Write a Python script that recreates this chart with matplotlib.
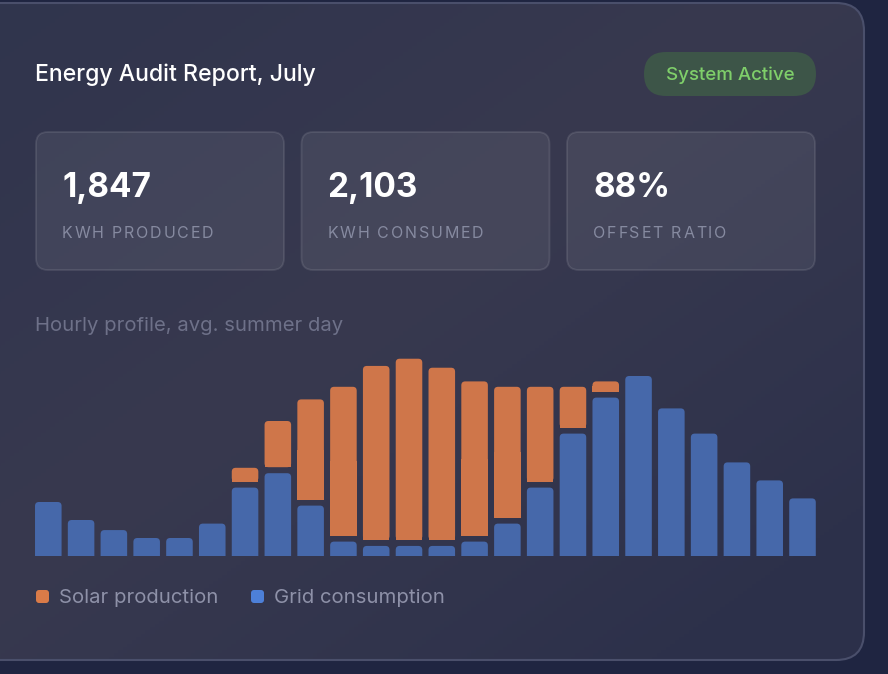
import numpy as np
import matplotlib
matplotlib.use("Agg")
import matplotlib.pyplot as plt
from matplotlib.patches import FancyBboxPatch, Rectangle

plt.rcParams['font.family'] = ['Inter', 'DejaVu Sans']

# hourly profile, avg. summer day (kW)
hours = np.arange(24)
grid = [1.5, 1.0, 0.72, 0.5, 0.5, 0.9, 1.9, 2.3, 1.4, 0.4, 0.28, 0.28,
        0.28, 0.4, 0.9, 1.9, 3.4, 4.4, 5.0, 4.1, 3.4, 2.6, 2.1, 1.6]
solar = [0, 0, 0, 0, 0, 0, 0.55, 1.45, 2.95, 4.3, 5.0, 5.2,
         4.95, 4.45, 3.8, 2.8, 1.3, 0.45, 0, 0, 0, 0, 0, 0]

kpi_values = ["1,847", "2,103", "88%"]
kpi_labels = ["KWH PRODUCED", "KWH CONSUMED", "OFFSET RATIO"]
series_names = ["Solar production", "Grid consumption"]

BLUE = "#4668aa"
ORANGE = "#cf764a"
W, H = 888, 674

fig = plt.figure(figsize=(W / 100, H / 100), dpi=100)
fig.patch.set_facecolor("#1f2541")
renderer = fig.canvas.get_renderer()

# background axes in pixel coordinates
bg = fig.add_axes([0, 0, 1, 1])
bg.set_xlim(0, W)
bg.set_ylim(H, 0)
bg.axis("off")

# card with soft gradient
card = FancyBboxPatch((-40, 3), 904, 657, boxstyle="round,pad=0,rounding_size=28",
                      facecolor="none", edgecolor="#4a4f6b", lw=1.5, zorder=3)
bg.add_patch(card)
yy, xx = np.mgrid[0:1:200j, 0:1:200j]
t = 0.5 * xx + 0.5 * yy
c0 = np.array([0x30, 0x35, 0x4e]) / 255
c1 = np.array([0x38, 0x39, 0x4f]) / 255
c2 = np.array([0x2c, 0x30, 0x4a]) / 255
w = np.clip(1 - np.abs(t - 0.45) * 2.2, 0, 1)[..., None]
img = c0 * (1 - t[..., None]) + c2 * t[..., None]
img = img * (1 - w) + c1 * w
im = bg.imshow(img, extent=(-40, 864, 660, 3), zorder=1, aspect="auto")
im.set_clip_path(card)


def spaced_text(x, y, s, spacing, **kw):
    # draw text char by char to mimic css letter-spacing
    for ch in s:
        t = bg.text(x, y, ch, ha="left", **kw)
        wpx = t.get_window_extent(renderer).width
        x += wpx + spacing


bg.text(35, 75, "Energy Audit Report, July", color="white", fontsize=16.6,
        fontweight="medium", va="center", ha="left", zorder=5)

badge = FancyBboxPatch((644, 52), 172, 44, boxstyle="round,pad=0,rounding_size=22",
                       facecolor="#3d5548", edgecolor="none", zorder=4)
bg.add_patch(badge)
bg.text(730, 75, "System Active", color="#7fcf6a", fontsize=13.5,
        fontweight="medium", va="center", ha="center", zorder=5)

for i, (val, lab) in enumerate(zip(kpi_values, kpi_labels)):
    x0 = 36 + i * 265.5
    box = FancyBboxPatch((x0, 132), 248, 138, boxstyle="round,pad=0,rounding_size=12",
                         facecolor=(1, 1, 1, 0.07), edgecolor=(1, 1, 1, 0.1),
                         lw=1.3, zorder=4)
    bg.add_patch(box)
    bg.text(x0 + 26, 188, val, color="white", fontsize=24, fontweight="bold",
            va="center", ha="left", zorder=5)
    spaced_text(x0 + 26, 233, lab, 1.8, color="#868aa0", fontsize=11.5,
                va="center", zorder=5)

bg.text(35, 326, "Hourly profile, avg. summer day", color="#6e7189",
        fontsize=14.6, va="center", ha="left", zorder=5)

# legend
for x0, col, name in [(36, "#da7b48", series_names[0]), (251, "#4d80d8", series_names[1])]:
    bg.add_patch(FancyBboxPatch((x0, 590), 13, 13, boxstyle="round,pad=0,rounding_size=3",
                                facecolor=col, edgecolor="none", zorder=5))
    bg.text(x0 + 23, 598, name, color="#8e91a8", fontsize=14.6,
            va="center", ha="left", zorder=5)

# bar chart
ax = fig.add_axes([31.9 / W, (H - 556) / H, 787 / W, 216 / H])
ax.patch.set_alpha(0)
ax.set_xlim(-0.5, 23.5)
ax.set_ylim(0, 6.0)
ax.axis("off")

gap = 6 / 36
rx = 0.12
aspect = 0.91


def rounded(rect, color, square_bottom):
    x, y = rect.get_x(), rect.get_y()
    w, h = rect.get_width(), rect.get_height()
    rect.set_visible(False)
    if h <= 0:
        return
    y0 = y - 0.3 if not square_bottom else y
    ax.add_patch(FancyBboxPatch((x, y0), w, h + (y - y0),
                                boxstyle=f"round,pad=0,rounding_size={rx}",
                                mutation_aspect=aspect, facecolor=color,
                                edgecolor="none", zorder=3))
    if square_bottom:
        ax.add_patch(Rectangle((x, y), w, h / 2, facecolor=color,
                               edgecolor="none", zorder=3))


blue_bars = ax.bar(hours, grid, width=0.81, color=BLUE)
for r in blue_bars:
    rounded(r, BLUE, False)

solar_vis = [max(s - gap, 0) for s in solar]
orange_bars = ax.bar(hours, solar_vis, width=0.81,
                     bottom=[g + gap for g in grid], color=ORANGE)
for r in orange_bars:
    rounded(r, ORANGE, True)

fig.savefig("out.png", dpi=100, facecolor=fig.get_facecolor())
